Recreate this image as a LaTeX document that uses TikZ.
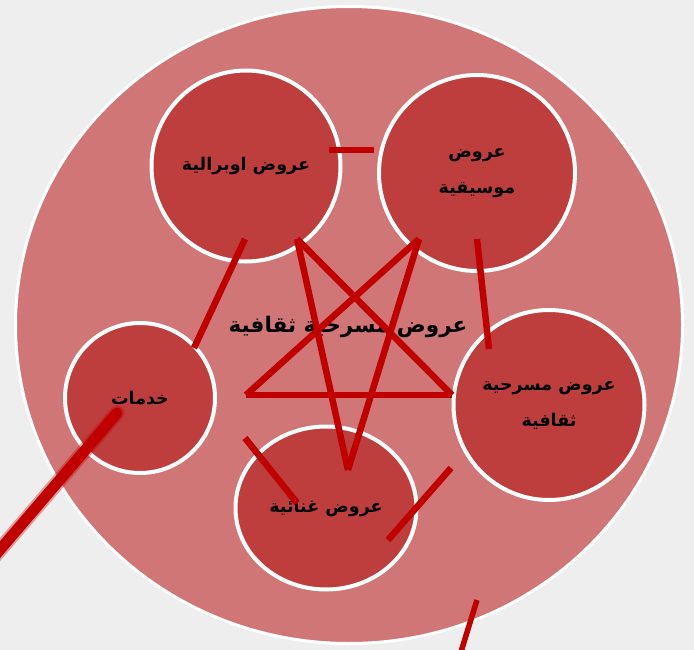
\documentclass[tikz,border=0pt]{standalone}
\usepackage{fontspec}
\newfontfamily\arabicfont[Script=Arabic]{DejaVu Sans}
\TeXXeTstate=1
\usetikzlibrary{shapes.geometric}
\definecolor{bgc}{HTML}{EEEEEE}
\definecolor{bigc}{HTML}{D07676}
\definecolor{smallc}{HTML}{BE3E3E}
\definecolor{redl}{HTML}{C00000}
\newcommand{\artxt}[1]{\beginR #1\endR}
\begin{document}
\begin{tikzpicture}[x=1pt,y=-1pt,
  bubble/.style={ellipse, fill=smallc, draw=white, line width=4pt, inner sep=0pt,
    font=\arabicfont\bfseries\fontsize{17.5}{36}\selectfont, align=center, text=black},
  redline/.style={draw=redl, line width=6.5pt},
]
\useasboundingbox (0,0) rectangle (694,650);
\clip (0,0) rectangle (694,650);
\fill[bgc] (0,0) rectangle (694,650);
\node[ellipse, fill=bigc, draw=white, line width=3pt, minimum width=667pt, minimum height=637pt] (big) at (349,325) {};
\node[bubble, minimum width=189pt, minimum height=191pt] (opera) at (246,166) {\artxt{عروض اوبرالية}};
\node[bubble, minimum width=196pt, minimum height=196pt] (music) at (477,173) {\artxt{عروض}\\\artxt{موسيقية}};
\node[bubble, minimum width=150pt, minimum height=150pt] (services) at (140,398) {\artxt{خدمات}};
\node[bubble, minimum width=191pt, minimum height=190pt] (theatre) at (549,405) {\artxt{عروض مسرحية}\\\artxt{ثقافية}};
\node[bubble, minimum width=181pt, minimum height=163pt] (song) at (326,508) {\artxt{عروض غنائية}};
\node[font=\arabicfont\bfseries\fontsize{21.5}{26}\selectfont, text=black] (center) at (348,327) {\artxt{عروض مسرحية ثقافية}};
% star
\coordinate (p1) at (297,239);
\coordinate (p2) at (419,239);
\coordinate (p3) at (246,395);
\coordinate (p4) at (452,395);
\coordinate (p5) at (348,470);
\draw[redline] (p3) -- (p4);
\draw[redline] (p3) -- (p2);
\draw[redline] (p1) -- (p4);
\draw[redline] (p1) -- (p5);
\draw[redline] (p2) -- (p5);
% other segments
\coordinate (a1) at (245,239); \coordinate (a2) at (194,348);
\coordinate (b1) at (477,239); \coordinate (b2) at (489,349);
\coordinate (c1) at (329,150); \coordinate (c2) at (374,150);
\coordinate (d1) at (245,438); \coordinate (d2) at (297,503);
\coordinate (e1) at (451,468); \coordinate (e2) at (388,540);
\coordinate (f1) at (477,600); \coordinate (f2) at (456,668);
\coordinate (g1) at (117,413); \coordinate (g2) at (-20,573);
\draw[redline] (a1) -- (a2);
\draw[redline] (b1) -- (b2);
\draw[redline] (c1) -- (c2);
\draw[redline] (d1) -- (d2);
\draw[redline] (e1) -- (e2);
\draw[redline, line width=5.5pt] (f1) -- (f2);
\draw[draw=redl, line width=15pt, line cap=round, opacity=0.35] (g1) -- (g2);
\draw[draw=redl, line width=11pt, line cap=round] (g1) -- (g2);
\end{tikzpicture}
\end{document}
